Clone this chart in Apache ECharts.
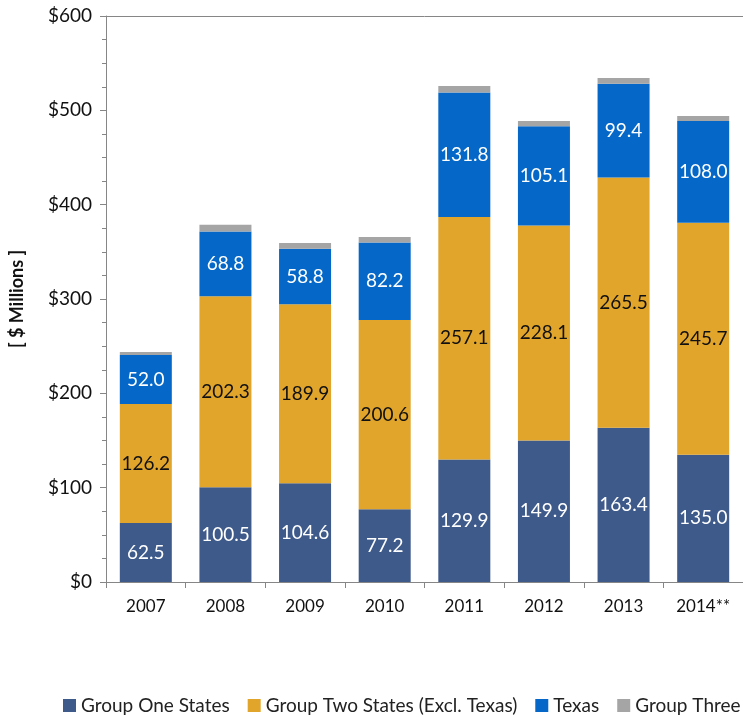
<!DOCTYPE html>
<html>
<head>
<meta charset="utf-8">
<script src="https://cdn.jsdelivr.net/npm/echarts@6/dist/echarts.min.js"></script>
<style>
  html, body { margin: 0; padding: 0; background: #fff; }
  #main { width: 743px; height: 717px; }
</style>
</head>
<body>
<div id="main"></div>
<script>
// 年份
const years = ["2007", "2008", "2009", "2010", "2011", "2012", "2013", "2014**"];
// 各组数据（百万美元）
const groupOne = [62.5, 100.5, 104.6, 77.2, 129.9, 149.9, 163.4, 135.0];
const groupTwo = [126.2, 202.3, 189.9, 200.6, 257.1, 228.1, 265.5, 245.7];
const texas = [52.0, 68.8, 58.8, 82.2, 131.8, 105.1, 99.4, 108.0];
// 图上没有标注，按柱高估计
const groupThree = [3.2, 7.0, 6.0, 5.8, 7.0, 5.6, 6.0, 5.3];

const names = ["Group One States", "Group Two States (Excl. Texas)", "Texas", "Group Three"];
const colors = ["#3e5a8b", "#e1a52c", "#0568c8", "#a5a5a5"];

const font = "Lato, 'Open Sans', sans-serif";

function barSeries(name, data, color, labelColor) {
  return {
    name: name,
    type: "bar",
    stack: "total",
    barWidth: 52,
    data: data,
    itemStyle: { color: color },
    label: labelColor
      ? {
          show: true,
          position: "inside",
          color: labelColor,
          fontSize: 19,
          fontFamily: font,
          formatter: (p) => p.value.toFixed(1),
        }
      : { show: false },
  };
}

const chart = echarts.init(document.getElementById("main"));
const option = {
  animation: false,
  textStyle: { fontFamily: font },
  grid: { left: 104, top: 16, width: 644, height: 566 },
  legend: {
    data: names,
    left: 63,
    top: 696,
    itemWidth: 13,
    itemHeight: 13,
    itemGap: 18,
    icon: "rect",
    padding: 0,
    textStyle: { fontSize: 19, color: "#222", fontFamily: font },
  },
  xAxis: [
    {
      type: "category",
      data: years,
      axisLine: { lineStyle: { color: "#868686" } },
      axisTick: { show: true, length: 6, lineStyle: { color: "#868686" } },
      axisLabel: { color: "#111", fontSize: 17, margin: 16, fontFamily: font },
    },
    {
      type: "category",
      position: "top",
      data: years,
      axisLine: { show: true, lineStyle: { color: "#868686" } },
      axisTick: { show: false },
      axisLabel: { show: false },
    },
  ],
  yAxis: {
    type: "value",
    min: 0,
    max: 600,
    interval: 100,
    name: "[ $ Millions ]",
    nameLocation: "middle",
    nameGap: 80,
    nameTextStyle: { fontSize: 18, fontWeight: "bold", color: "#111", fontFamily: font },
    axisLine: { show: true, lineStyle: { color: "#868686" } },
    axisTick: { show: true, length: 6, lineStyle: { color: "#868686" } },
    minorTick: { show: true, splitNumber: 4, length: 4, lineStyle: { color: "#868686" } },
    splitLine: { show: false },
    axisLabel: { color: "#111", fontSize: 19, margin: 14, fontFamily: font, formatter: (v) => "$" + v },
  },
  series: [
    barSeries(names[0], groupOne, colors[0], "#fff"),
    barSeries(names[1], groupTwo, colors[1], "#111"),
    barSeries(names[2], texas, colors[2], "#fff"),
    barSeries(names[3], groupThree, colors[3], null),
  ],
};
chart.setOption(option);
</script>
</body>
</html>
